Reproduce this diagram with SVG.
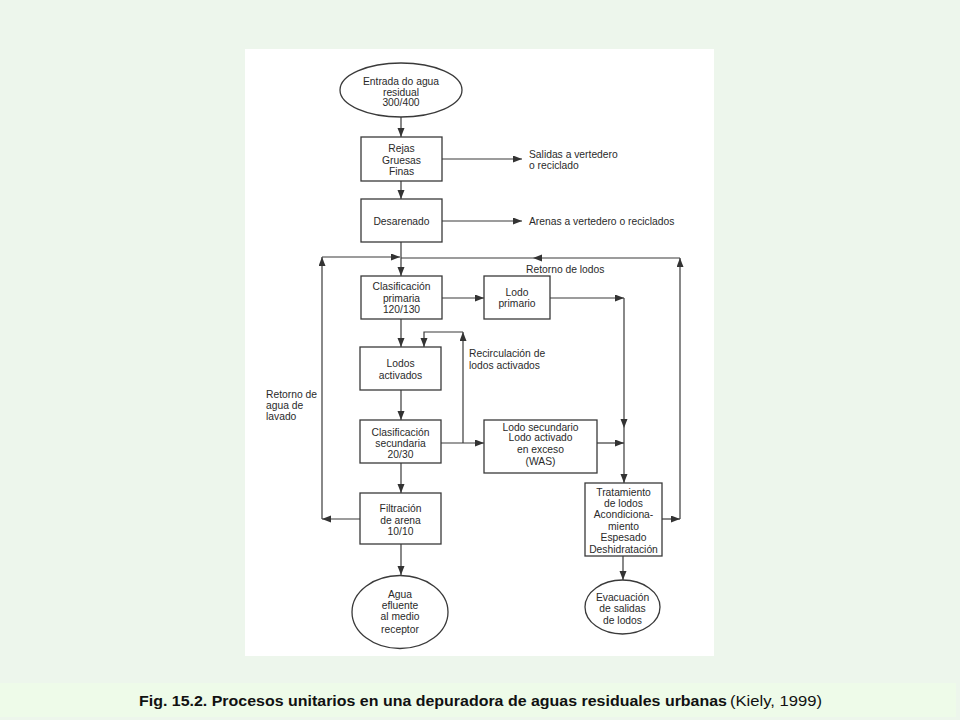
<svg xmlns="http://www.w3.org/2000/svg" width="960" height="720" viewBox="0 0 960 720">
<defs>
<marker id="ah" markerUnits="userSpaceOnUse" markerWidth="10" markerHeight="8" refX="9" refY="3.5" orient="auto">
<path d="M0,0 L9,3.5 L0,7 z" fill="#333"/>
</marker>
<style>
.n rect, .n ellipse { fill: #fff; stroke: #3a3a3a; stroke-width: 1.3; }
.t { font-family: "Liberation Sans", Arial, sans-serif; font-size: 10.3px; fill: #2a2a2a; text-anchor: middle; }
.l { font-family: "Liberation Sans", Arial, sans-serif; font-size: 10.3px; fill: #2a2a2a; }
.c path { fill: none; stroke: #3a3a3a; stroke-width: 1.2; }
.a { marker-end: url(#ah); }
.cap { font-family: "Liberation Sans", Arial, sans-serif; font-size: 15px; fill: #111; }
</style>
</defs>
<rect x="0" y="0" width="960" height="720" fill="#edf6ec"/>
<rect x="0" y="683" width="956" height="34" fill="#eefbe9"/>
<rect x="245" y="49" width="469" height="607" fill="#ffffff"/>

<g class="c" id="connectors">
<path class="a" d="M401,117 V137"/>
<path class="a" d="M401,181 V199"/>
<path class="a" d="M442,159 H522"/>
<path class="a" d="M442,221 H522"/>
<path class="a" d="M401,242 V276"/>
<path class="a" d="M360,519 H322"/>
<path class="a" d="M322,519 V257"/>
<path class="a" d="M322,257 H400"/>
<path class="a" d="M662,519 H680"/>
<path class="a" d="M680,519 V258"/>
<path class="a" d="M680,258 H533"/>
<path d="M533,258 H401"/>
<path class="a" d="M442,298 H484"/>
<path class="a" d="M550,298 H624"/>
<path class="a" d="M624,298 V428"/>
<path class="a" d="M624,428 V483"/>
<path class="a" d="M597,443 H624"/>
<path class="a" d="M401,319 V347"/>
<path class="a" d="M401,390 V420"/>
<path class="a" d="M441,443 H484"/>
<path class="a" d="M463,443 V332"/>
<path class="a" d="M463,332 H424 V347"/>
<path class="a" d="M401,463 V493"/>
<path class="a" d="M401,544 V575"/>
<path class="a" d="M623,556 V580"/>
</g>

<g class="n" id="entrada">
<ellipse cx="401" cy="90" rx="61" ry="27"/>
<text class="t" x="401" y="85">Entrada do agua</text>
<text class="t" x="401" y="95.5">residual</text>
<text class="t" x="401" y="106">300/400</text>
</g>
<g class="n" id="rejas">
<rect x="361" y="137" width="81" height="44"/>
<text class="t" x="401.5" y="152">Rejas</text>
<text class="t" x="401.5" y="163.5">Gruesas</text>
<text class="t" x="401.5" y="175">Finas</text>
</g>
<g class="n" id="desarenado">
<rect x="361" y="199" width="81" height="43"/>
<text class="t" x="401.5" y="224.5">Desarenado</text>
</g>
<g class="n" id="clas-primaria">
<rect x="361" y="276" width="81" height="43"/>
<text class="t" x="401.5" y="290">Clasificación</text>
<text class="t" x="401.5" y="301.5">primaria</text>
<text class="t" x="401.5" y="313">120/130</text>
</g>
<g class="n" id="lodo-primario">
<rect x="484" y="276" width="66" height="43"/>
<text class="t" x="517" y="295.5">Lodo</text>
<text class="t" x="517" y="307">primario</text>
</g>
<g class="n" id="lodos-activados">
<rect x="360" y="347" width="81" height="43"/>
<text class="t" x="400.5" y="367">Lodos</text>
<text class="t" x="400.5" y="378.7">activados</text>
</g>
<g class="n" id="clas-secundaria">
<rect x="360" y="420" width="81" height="43"/>
<text class="t" x="400.5" y="435.5">Clasificación</text>
<text class="t" x="400.5" y="447">secundaria</text>
<text class="t" x="400.5" y="458">20/30</text>
</g>
<g class="n" id="was">
<rect x="484" y="420" width="113" height="53"/>
<text class="t" x="540.5" y="430.5">Lodo secundario</text>
<text class="t" x="540.5" y="441">Lodo activado</text>
<text class="t" x="540.5" y="453">en exceso</text>
<text class="t" x="540.5" y="464.7">(WAS)</text>
</g>
<g class="n" id="filtracion">
<rect x="360" y="493" width="81" height="51"/>
<text class="t" x="400.5" y="512">Filtración</text>
<text class="t" x="400.5" y="523.7">de arena</text>
<text class="t" x="400.5" y="535">10/10</text>
</g>
<g class="n" id="agua">
<ellipse cx="400" cy="612" rx="48" ry="36.5"/>
<text class="t" x="400" y="597.7">Agua</text>
<text class="t" x="400" y="608.7">efluente</text>
<text class="t" x="400" y="620.4">al medio</text>
<text class="t" x="400" y="632.7">receptor</text>
</g>
<g class="n" id="tratamiento">
<rect x="585" y="483" width="77" height="73"/>
<text class="t" x="623.5" y="495.5">Tratamiento</text>
<text class="t" x="623.5" y="507">de lodos</text>
<text class="t" x="623.5" y="518">Acondiciona-</text>
<text class="t" x="623.5" y="529.5">miento</text>
<text class="t" x="623.5" y="541">Espesado</text>
<text class="t" x="623.5" y="552.7">Deshidratación</text>
</g>
<g class="n" id="evacuacion">
<ellipse cx="622.5" cy="607" rx="37.5" ry="27"/>
<text class="t" x="622.5" y="600.5">Evacuación</text>
<text class="t" x="622.5" y="612">de salidas</text>
<text class="t" x="622.5" y="623.7">de lodos</text>
</g>

<g id="labels">
<text class="l" x="529" y="157.5">Salidas a vertedero</text>
<text class="l" x="529" y="169">o reciclado</text>
<text class="l" x="529" y="224.5">Arenas a vertedero o reciclados</text>
<text class="l" x="526" y="273">Retorno de lodos</text>
<text class="l" x="469" y="357">Recirculación de</text>
<text class="l" x="469" y="368.7">lodos activados</text>
<text class="l" x="266" y="397.7">Retorno de</text>
<text class="l" x="266" y="409.4">agua de</text>
<text class="l" x="266" y="420.4">lavado</text>
</g>

<g id="caption">
<text class="cap" x="139" y="706" font-weight="bold" textLength="588" lengthAdjust="spacingAndGlyphs">Fig. 15.2. Procesos unitarios en una depuradora de aguas residuales urbanas</text>
<text class="cap" x="730" y="706" fill="#333" textLength="92" lengthAdjust="spacingAndGlyphs">(Kiely, 1999)</text>
</g>
</svg>
